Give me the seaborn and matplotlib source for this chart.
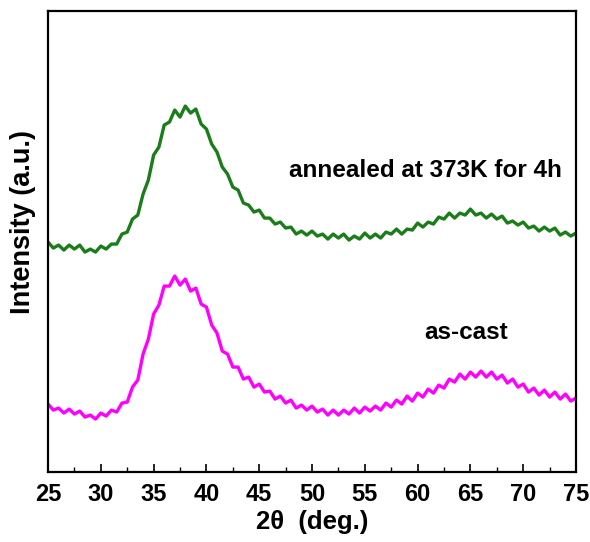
import numpy as np
import matplotlib
matplotlib.use("Agg")
import matplotlib.pyplot as plt
from matplotlib.ticker import MultipleLocator
import seaborn as sns

sns.set_style("ticks")
plt.rcParams["font.family"] = ["Liberation Sans", "DejaVu Sans"]
plt.rcParams["text.color"] = "black"
plt.rcParams["axes.labelcolor"] = "black"
plt.rcParams["xtick.color"] = "black"

## DATA (arbitrary units)
two_theta = np.arange(25, 75.01, 0.5)

annealed = [
    230, 224, 227, 222, 227, 223, 227, 220, 223, 220,
    226, 223, 228, 228, 238, 240, 253, 257, 278, 292,
    317, 325, 347, 350, 362, 355, 366, 359, 363, 348,
    343, 328, 320, 305, 298, 285, 282, 269, 267, 260,
    262, 254, 254, 248, 250, 244, 245, 238, 241, 237,
    241, 236, 238, 233, 238, 234, 238, 232, 236, 233,
    239, 234, 238, 234, 240, 238, 243, 238, 243, 242,
    249, 245, 250, 248, 255, 253, 259, 254, 259, 257,
    263, 257, 259, 254, 258, 253, 256, 249, 251, 247,
    250, 244, 246, 241, 245, 241, 244, 237, 240, 236,
    239,
]

as_cast = [
    68, 62, 64, 59, 63, 58, 61, 55, 57, 53,
    59, 56, 62, 60, 69, 70, 85, 92, 118, 133,
    158, 167, 186, 186, 196, 187, 193, 181, 184, 168,
    165, 147, 139, 121, 118, 105, 105, 93, 95, 85,
    88, 80, 81, 73, 76, 69, 72, 64, 67, 62,
    66, 60, 63, 57, 62, 57, 62, 58, 64, 59,
    65, 61, 66, 62, 69, 65, 72, 68, 76, 71,
    79, 75, 83, 79, 87, 84, 93, 90, 98, 93,
    100, 95, 101, 95, 100, 93, 97, 89, 93, 85,
    88, 80, 84, 77, 82, 75, 80, 73, 78, 71,
    74,
]

labels = ["annealed at 373K for 4h", "as-cast"]

## PLOT
fig = plt.figure(figsize=(5.9, 5.42), dpi=100)
ax = fig.add_axes([0.0814, 0.129, 0.8949, 0.8506])

sns.lineplot(x=two_theta, y=annealed, ax=ax, color="#1a7d1a", linewidth=2.4)
sns.lineplot(x=two_theta, y=as_cast, ax=ax, color="#ff00ff", linewidth=2.4)

ax.text(47.8, 302, labels[0], fontsize=17.5, fontweight="bold", ha="left", va="center")
ax.text(60.6, 140, labels[1], fontsize=17.5, fontweight="bold", ha="left", va="center")

ax.set_xlim(25, 75)
ax.set_ylim(0, 461)
ax.xaxis.set_major_locator(MultipleLocator(5))
ax.xaxis.set_minor_locator(MultipleLocator(2.5))
ax.tick_params(axis="x", which="major", direction="in", length=6, width=1.2,
               labelsize=17, pad=8)
ax.tick_params(axis="x", which="minor", direction="in", length=3.5, width=1.0)
ax.set_yticks([])
for lab in ax.get_xticklabels():
    lab.set_fontweight("bold")

for side in ["left", "right", "top", "bottom"]:
    ax.spines[side].set_visible(True)
    ax.spines[side].set_linewidth(1.6)
    ax.spines[side].set_color("black")

ax.set_xlabel("2θ  (deg.)", fontsize=18.5, fontweight="bold", labelpad=3)
ax.set_ylabel("Intensity (a.u.)", fontsize=19.5, fontweight="bold")
ax.yaxis.set_label_coords(-0.022, 0.542)

fig.savefig("out.png", dpi=100)
